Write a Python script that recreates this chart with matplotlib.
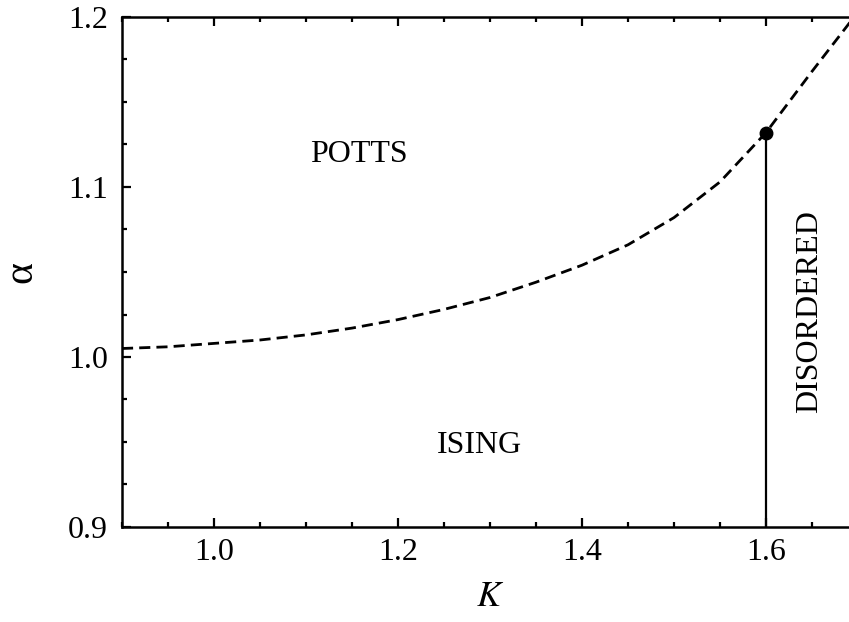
import matplotlib.pyplot as plt
from matplotlib.ticker import MultipleLocator

plt.rcParams['font.family'] = ['Liberation Serif', 'DejaVu Serif']
plt.rcParams['mathtext.fontset'] = 'stix'

# phase boundary (dashed)
k_line = [0.9, 0.95, 1.0, 1.05, 1.1, 1.15, 1.2, 1.25, 1.3, 1.35, 1.4, 1.45, 1.5, 1.55, 1.6, 1.65, 1.7]
a_line = [1.005, 1.006, 1.008, 1.010, 1.013, 1.017, 1.022, 1.028, 1.035, 1.044,
          1.054, 1.066, 1.082, 1.103, 1.132, 1.168, 1.203]

# end point and the vertical boundary to the disordered phase
k_dot = 1.6
a_dot = 1.132
a_bottom = 0.9

# region labels
labels = ['POTTS', 'ISING', 'DISORDERED']
label_k = [1.158, 1.289, 1.647]
label_a = [1.119, 0.948, 1.027]
label_rot = [0, 0, 90]

fig = plt.figure(figsize=(8.49, 6.22), dpi=100)
ax = fig.add_axes([122 / 849, 95 / 622, 736 / 849, 510 / 622])

ax.plot(k_line, a_line, color='black', lw=2, dashes=(4, 2.2))
ax.plot([k_dot, k_dot], [a_bottom, a_dot], color='black', lw=1.6)
ax.plot([k_dot], [a_dot], 'o', color='black', ms=9)

for txt, x, y, r in zip(labels, label_k, label_a, label_rot):
    ax.text(x, y, txt, ha='center', va='center', rotation=r, fontsize=23)

ax.set_xlim(0.9, 1.7)
ax.set_ylim(0.9, 1.2)
ax.xaxis.set_minor_locator(MultipleLocator(0.05))
ax.yaxis.set_minor_locator(MultipleLocator(0.025))
ax.set_xticks([1.0, 1.2, 1.4, 1.6])
ax.set_xticklabels(['1.0', '1.2', '1.4', '1.6'])
ax.set_yticks([0.9, 1.0, 1.1, 1.2])
ax.set_yticklabels(['0.9', '1.0', '1.1', '1.2'])

ax.tick_params(which='both', direction='in', top=True, right=True, width=1.6, labelsize=23)
ax.tick_params(which='major', length=6.5)
ax.tick_params(axis='y', which='major', pad=10)
ax.tick_params(axis='x', which='major', pad=8)
ax.tick_params(which='minor', length=3.5)
for s in ax.spines.values():
    s.set_linewidth(1.8)

ax.set_xlabel('$K$', fontsize=26, labelpad=10)
ax.set_ylabel('\u03b1', fontsize=30, labelpad=20)

fig.savefig('out.png', dpi=100)
